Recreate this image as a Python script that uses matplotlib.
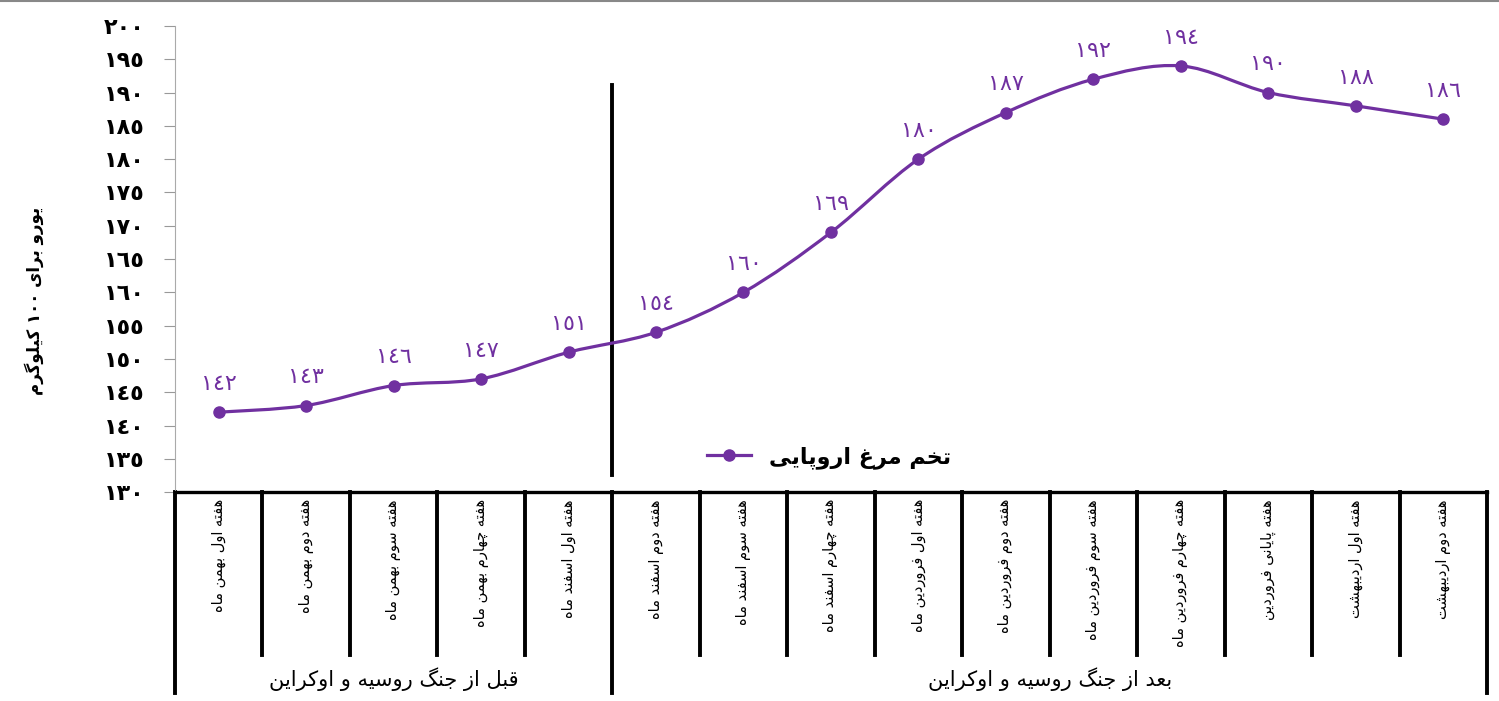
import numpy as np
import matplotlib.pyplot as plt
from matplotlib.path import Path
from matplotlib.patches import PathPatch

# data
categories = ['هفته اول بهمن ماه', 'هفته دوم بهمن ماه', 'هفته سوم بهمن ماه',
              'هفته چهارم بهمن ماه', 'هفته اول اسفند ماه', 'هفته دوم اسفند ماه',
              'هفته سوم اسفند ماه', 'هفته چهارم اسفند ماه', 'هفته اول فروردین ماه',
              'هفته دوم فروردین ماه', 'هفته سوم فروردین ماه', 'هفته چهارم فروردین ماه',
              'هفته پایانی فروردین', 'هفته اول اردیبهشت', 'هفته دوم اردیبهشت']
prices = [142, 143, 146, 147, 151, 154, 160, 169, 180, 187, 192, 194, 190, 188, 186]
groups = ['قبل از جنگ روسیه و اوکراین', 'بعد از جنگ روسیه و اوکراین']
group_sizes = [5, 10]
series_name = 'تخم مرغ اروپایی'
y_label = 'یورو برای ١٠٠ کیلوگرم'
y_ticks = list(range(130, 201, 5))

purple = '#7030A0'

# --- minimal arabic/persian shaping (no arabic_reshaper available) ---
forms = {  # isolated, final, initial, medial
    'ا': (0xFE8D, 0xFE8E, None, None), 'ب': (0xFE8F, 0xFE90, 0xFE91, 0xFE92),
    'پ': (0xFB56, 0xFB57, 0xFB58, 0xFB59), 'ت': (0xFE95, 0xFE96, 0xFE97, 0xFE98),
    'ج': (0xFE9D, 0xFE9E, 0xFE9F, 0xFEA0), 'چ': (0xFB7A, 0xFB7B, 0xFB7C, 0xFB7D),
    'خ': (0xFEA5, 0xFEA6, 0xFEA7, 0xFEA8), 'د': (0xFEA9, 0xFEAA, None, None),
    'ر': (0xFEAD, 0xFEAE, None, None), 'ز': (0xFEAF, 0xFEB0, None, None),
    'س': (0xFEB1, 0xFEB2, 0xFEB3, 0xFEB4), 'ش': (0xFEB5, 0xFEB6, 0xFEB7, 0xFEB8),
    'ع': (0xFEC9, 0xFECA, 0xFECB, 0xFECC), 'غ': (0xFECD, 0xFECE, 0xFECF, 0xFED0),
    'ف': (0xFED1, 0xFED2, 0xFED3, 0xFED4), 'ق': (0xFED5, 0xFED6, 0xFED7, 0xFED8),
    'ک': (0xFB8E, 0xFB8F, 0xFB90, 0xFB91), 'گ': (0xFB92, 0xFB93, 0xFB94, 0xFB95),
    'ل': (0xFEDD, 0xFEDE, 0xFEDF, 0xFEE0), 'م': (0xFEE1, 0xFEE2, 0xFEE3, 0xFEE4),
    'ن': (0xFEE5, 0xFEE6, 0xFEE7, 0xFEE8), 'ه': (0xFEE9, 0xFEEA, 0xFEEB, 0xFEEC),
    'و': (0xFEED, 0xFEEE, None, None), 'ی': (0xFBFC, 0xFBFD, 0xFBFE, 0xFBFF),
}


def fa(s):
    out = []
    for i, c in enumerate(s):
        if c not in forms:
            out.append(c)
            continue
        prev = s[i - 1] if i > 0 else ''
        nxt = s[i + 1] if i + 1 < len(s) else ''
        j_prev = prev in forms and forms[prev][2] is not None
        j_next = forms[c][2] is not None and nxt in forms
        f = forms[c]
        if j_prev and j_next:
            code = f[3]
        elif j_prev:
            code = f[1]
        elif j_next:
            code = f[2]
        else:
            code = f[0]
        out.append(chr(code))
    shaped = ''.join(out)
    # visual order: reverse, keep digit runs left-to-right
    tokens = []
    for ch in shaped:
        isd = '\u0660' <= ch <= '\u0669'
        if tokens and tokens[-1][0] == isd and isd:
            tokens[-1][1] += ch
        else:
            tokens.append([isd, ch])
    return ''.join(t[1] for t in reversed(tokens))


def ar_digits(n):
    return ''.join(chr(0x0660 + int(d)) for d in str(n))


plt.rcParams['font.family'] = ['DejaVu Sans']

fig = plt.figure(figsize=(14.99, 7.01), dpi=100)
ax = fig.add_axes([0.1167, 0.298, 0.8753, 0.665])

x = np.arange(len(prices))
y = np.array(prices, dtype=float)

# smoothed line (catmull-rom -> cubic bezier through data points)
pts = np.column_stack([x, y])
ext = np.vstack([pts[0], pts, pts[-1]])
verts = [tuple(pts[0])]
codes = [Path.MOVETO]
for i in range(len(pts) - 1):
    p0, p1, p2, p3 = ext[i], ext[i + 1], ext[i + 2], ext[i + 3]
    c1 = p1 + (p2 - p0) / 6
    c2 = p2 - (p3 - p1) / 6
    verts += [tuple(c1), tuple(c2), tuple(p2)]
    codes += [Path.CURVE4] * 3
ax.add_patch(PathPatch(Path(verts, codes), facecolor='none', edgecolor=purple, lw=2.3, zorder=3))
ax.plot(x, y, 'o', color=purple, ms=8, zorder=4)

for xi, v in zip(x, prices):
    ax.annotate(ar_digits(v), (xi, v), xytext=(0, 13), textcoords='offset points',
                ha='center', va='bottom', color=purple, fontsize=16)

# divider between the two periods
split = group_sizes[0] - 0.5
ax.plot([split, split], [132.5, 191.2], color='black', lw=2.8, zorder=2)

ax.set_xlim(-0.5, len(prices) - 0.5)
ax.set_ylim(130, 200)
ax.set_yticks(y_ticks)
ax.set_yticklabels([ar_digits(t) for t in y_ticks], fontsize=16, fontweight='bold')
ax.tick_params(axis='y', length=8, color='#999999', pad=14)
ax.set_xticks([])

for s in ['top', 'right']:
    ax.spines[s].set_visible(False)
ax.spines['left'].set_color('#aaaaaa')
ax.spines['bottom'].set_linewidth(2.4)
ax.spines['bottom'].set_color('black')

ax.set_ylabel(fa(y_label), fontsize=12, fontweight='bold')
ax.yaxis.set_label_coords(-0.1, 0.41)

# category axis: separators and rotated labels
tr = ax.get_xaxis_transform()
bounds = np.cumsum([0] + group_sizes) - 0.5
for k in range(len(categories) + 1):
    xs = k - 0.5
    bottom = -0.432 if xs in bounds else -0.35
    ax.plot([xs, xs], [0, bottom], color='black', lw=2.8, transform=tr, clip_on=False)
for xi, lab in zip(x, categories):
    ax.text(xi, -0.015, fa(lab), transform=tr, rotation=90, ha='center', va='top',
            fontsize=10.5)
for g, lab in enumerate(groups):
    mid = (bounds[g] + bounds[g + 1]) / 2
    ax.text(mid, -0.402, fa(lab), transform=tr, ha='center', va='center', fontsize=15)

ax.plot([], [], '-o', color=purple, lw=2.3, ms=8, label=fa(series_name))
leg = ax.legend(loc='center left', bbox_to_anchor=(0.39, 0.075), frameon=False,
                prop={'size': 16, 'weight': 'bold'}, handlelength=2.0)

fig.add_artist(plt.Line2D([0, 1], [0.998, 0.998], color='#888888', lw=1.5))

fig.savefig('out.png', dpi=100)
